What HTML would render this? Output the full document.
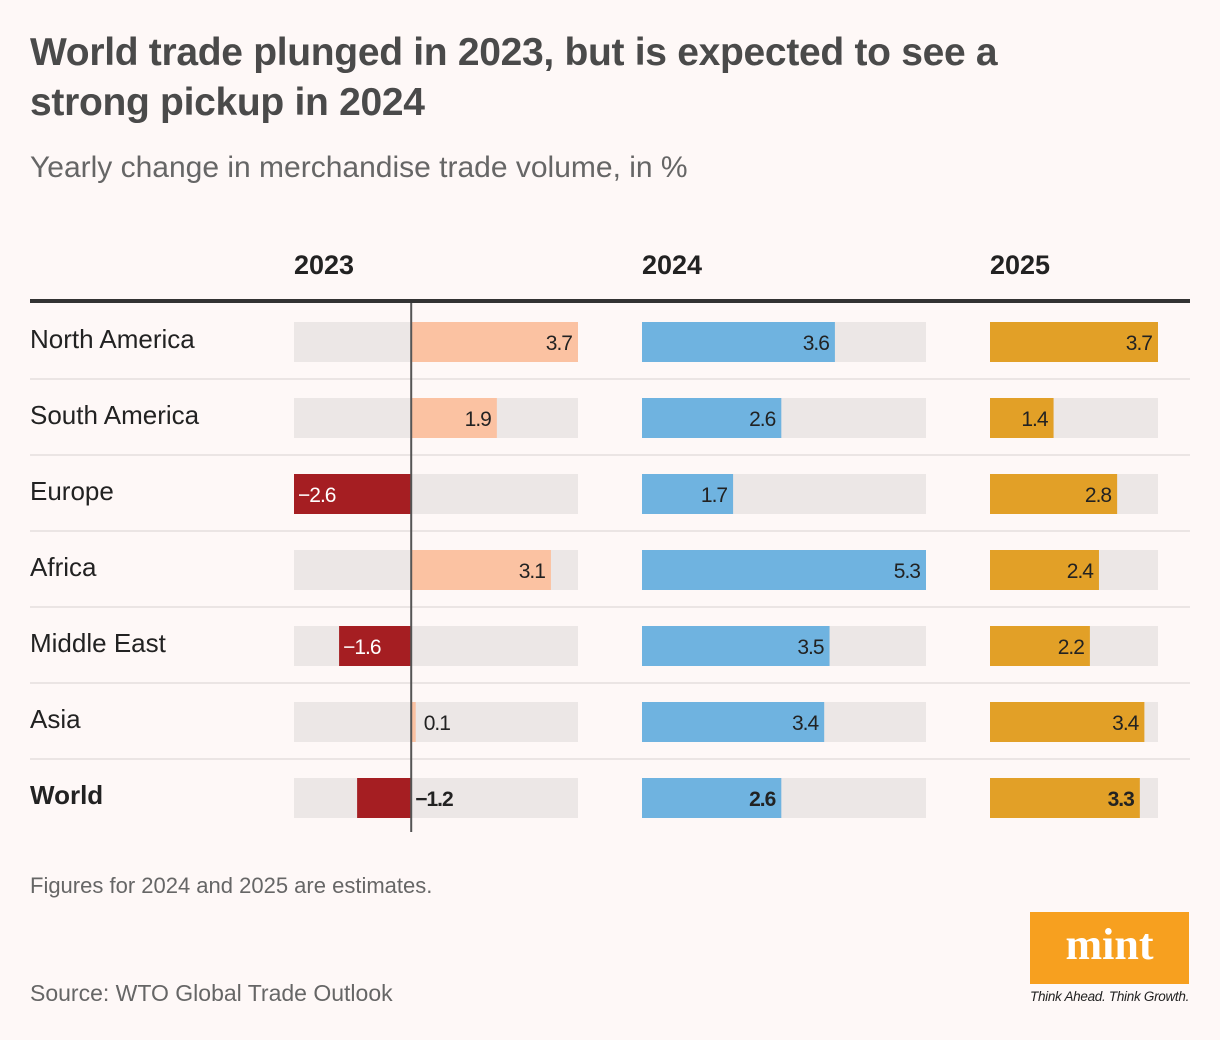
<!DOCTYPE html>
<html><head><meta charset="utf-8"><style>
body{margin:0;background:#fef8f7;font-family:"Liberation Sans",sans-serif;}
#c{position:relative;width:1220px;height:1040px;overflow:hidden}
.abs{position:absolute}
</style></head><body>
<div id="c">
<div class="abs" style="left:30px;top:28px;width:1060px;font-size:39px;font-weight:bold;color:#4a4a4a;line-height:50px;letter-spacing:-0.3px">World trade plunged in 2023, but is expected to see a strong pickup in 2024</div>
<div class="abs" style="left:30px;top:151px;font-size:30px;color:#666">Yearly change in merchandise trade volume, in %</div>
<div class="abs" style="left:30px;top:873px;font-size:22px;color:#666">Figures for 2024 and 2025 are estimates.</div>
<div class="abs" style="left:30px;top:980px;font-size:23px;color:#666">Source: WTO Global Trade Outlook</div>
<div class="abs" style="left:1030px;top:912px;width:159px;height:72px;background:#f7a01f;color:#fff;font-family:'Liberation Serif',serif;font-weight:bold;font-size:44px;text-align:center;line-height:66px">mint</div>
<div class="abs" style="left:1030px;top:989px;font-size:13.5px;font-style:italic;color:#222;white-space:nowrap;letter-spacing:-0.3px">Think Ahead. Think Growth.</div>
<svg id="s" class="abs" style="left:0;top:0" width="1220" height="1040"></svg>
</div>
<script>
const regions=["North America","South America","Europe","Africa","Middle East","Asia","World"];
const years=["2023","2024","2025"];
const v2023=[3.7,1.9,-2.6,3.1,-1.6,0.1,-1.2];
const v2024=[3.6,2.6,1.7,5.3,3.5,3.4,2.6];
const v2025=[3.7,1.4,2.8,2.4,2.2,3.4,3.3];
const s=document.getElementById('s');const NS='http://www.w3.org/2000/svg';
function mk(t,a,txt){const e=document.createElementNS(NS,t);for(const k in a)e.setAttribute(k,a[k]);if(txt!=null)e.textContent=txt;s.appendChild(e);return e;}
const cols=[{x0:294,x1:578,min:-2.6,max:3.7,vals:v2023,pos:'#fbc2a2',neg:'#a51e22'},
{x0:642,x1:926,min:0,max:5.3,vals:v2024,pos:'#6fb3e0',neg:'#6fb3e0'},
{x0:990,x1:1158,min:0,max:3.7,vals:v2025,pos:'#e2a027',neg:'#e2a027'}];
function sx(c,v){return c.x0+(v-c.min)/(c.max-c.min)*(c.x1-c.x0);}
years.forEach((y,i)=>{const t=mk('text',{x:cols[i].x0,y:274,'font-size':27,'font-weight':'bold',fill:'#222','font-family':'Liberation Sans, sans-serif'},y);

});
let l=mk('rect',{x:30,y:299,width:1160,height:4,fill:'#333'});


regions.forEach((r,i)=>{const top=322+i*76;const w=r==='World';
const lb=mk('text',{x:30,y:top+26,'font-size':26,'font-weight':w?'bold':'normal',fill:'#222','font-family':'Liberation Sans, sans-serif'},r);


if(i<regions.length-1){const sp=mk('rect',{x:30,y:top+56,width:1160,height:2,fill:'#ebe5e4'});

}
cols.forEach((c,j)=>{const bg=mk('rect',{x:c.x0,y:top,width:c.x1-c.x0,height:40,fill:'#ece7e6'});


const v=c.vals[i];const z=sx(c,0),e=sx(c,v);
const b=mk('rect',{x:Math.min(z,e),y:top,width:Math.abs(e-z),height:40,fill:v<0?c.neg:c.pos});


const lab=(v<0?'\u2212':'')+Math.abs(v).toFixed(1);let tx,anchor,fill='#222';
if(v<0){if(w){tx=z+4;anchor='start';}else{tx=e+4;anchor='start';fill='#fff';}}
else if(e-z<30){tx=e+8;anchor='start';}else{tx=e-6;anchor='end';}
const t=mk('text',{x:tx,y:top+28,'font-size':21,'text-anchor':anchor,fill:fill,'font-weight':w?'bold':'normal','font-family':'Liberation Sans, sans-serif','letter-spacing':'-1'},lab);

});});
const zl=mk('rect',{x:sx(cols[0],0)-1,y:303,width:2,height:529,fill:'#555'});


</script>
</body></html>
